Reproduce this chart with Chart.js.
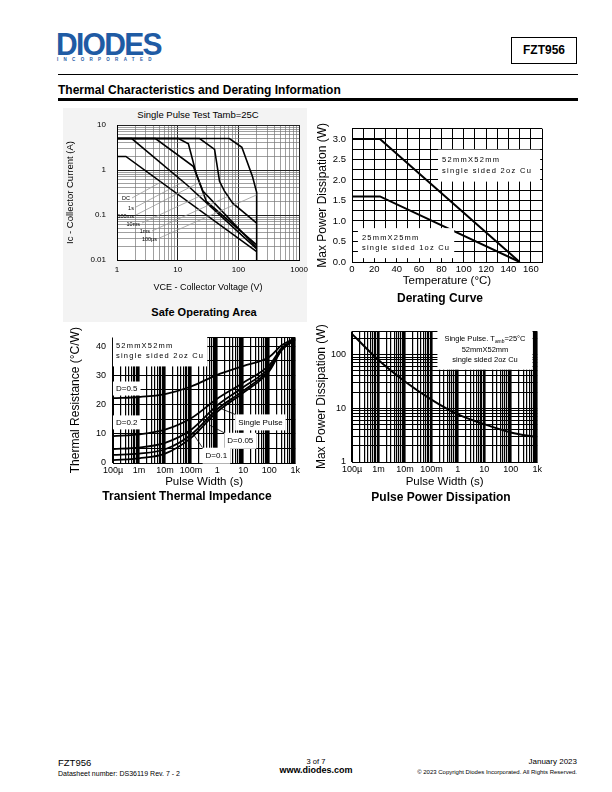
<!DOCTYPE html>
<html>
<head>
<meta charset="utf-8">
<script src="https://cdn.jsdelivr.net/npm/chart.js@4.4.0/dist/chart.umd.min.js"></script>
<style>
body { margin: 0; width: 612px; height: 792px; position: relative; background: #fff; overflow: hidden;
       font-family: "Liberation Sans", Arial, sans-serif; color: #000; }
.t { position: absolute; white-space: nowrap; }
canvas { position: absolute; }
</style>
</head>
<body>
<!-- header -->
<div class="t" style="left:56px;top:29px;font:bold 31px/31px 'Liberation Sans';color:#1f5ba4;letter-spacing:-1.8px;transform:scaleX(0.97);transform-origin:left top">DIODES</div>
<div class="t" style="left:57px;top:57px;font:bold 4.5px/5px 'Liberation Sans';color:#1f5ba4;letter-spacing:5.3px">INCORPORATED</div>
<div class="t" style="left:511px;top:37px;width:64px;height:25px;border:1px solid #000;font:bold 12px/25px 'Liberation Sans';text-align:center">FZT956</div>
<div class="t" style="left:58px;top:74px;width:520px;height:1px;background:#000"></div>
<div class="t" style="left:58px;top:84px;font:bold 12px/12px 'Liberation Sans'">Thermal Characteristics and Derating Information</div>
<div class="t" style="left:58px;top:98px;width:520px;height:2.5px;background:#000"></div>

<!-- safe operating area backdrop -->
<div class="t" style="left:63px;top:108px;width:244px;height:214px;background:#f3f3f3"></div>
<div class="t" style="left:98px;top:110px;width:200px;text-align:center;font:9.5px/10px 'Liberation Sans'">Single Pulse Test Tamb=25C</div>
<canvas id="soa" width="250" height="185" style="left:63px;top:108px"></canvas>
<div class="t" style="left:104px;top:307px;width:200px;text-align:center;font:bold 11px/11px 'Liberation Sans'">Safe Operating Area</div>

<canvas id="derating" width="240" height="173" style="left:312px;top:117px"></canvas>
<div class="t" style="left:340px;top:292px;width:200px;text-align:center;font:bold 12px/12px 'Liberation Sans'">Derating Curve</div>

<canvas id="transient" width="240" height="165" style="left:62px;top:325px"></canvas>
<div class="t" style="left:87px;top:490px;width:200px;text-align:center;font:bold 12px/12px 'Liberation Sans'">Transient Thermal Impedance</div>

<canvas id="pulse" width="232" height="170" style="left:312px;top:320px"></canvas>
<div class="t" style="left:341px;top:491px;width:200px;text-align:center;font:bold 12px/12px 'Liberation Sans'">Pulse Power Dissipation</div>

<!-- footer -->
<div class="t" style="left:58px;top:758px;font:9.5px/10px 'Liberation Sans'">FZT956</div>
<div class="t" style="left:58px;top:770px;font:7px/8px 'Liberation Sans'">Datasheet number: DS36119 Rev. 7 - 2</div>
<div class="t" style="left:216px;top:758px;width:200px;text-align:center;font:7.5px/8px 'Liberation Sans'">3 of 7</div>
<div class="t" style="left:216px;top:766px;width:200px;text-align:center;font:bold 9px/9px 'Liberation Sans'">www.diodes.com</div>
<div class="t" style="right:35px;top:758px;font:8px/8px 'Liberation Sans'">January 2023</div>
<div class="t" style="right:35px;top:769px;font:6px/7px 'Liberation Sans'">© 2023 Copyright Diodes Incorporated. All Rights Reserved.</div>

<script>
// ---- Safe Operating Area: collector voltage (V) / collector current (A)
var soaDcV = [1, 1.4, 200];
var soaDcI = [2, 2, 0.0154];
var soa1sV = [1, 1.75, 14.1, 200];
var soa1sI = [5, 5, 0.47, 0.0176];
var soa100msV = [1, 4.3, 18, 26, 200];
var soa100msI = [5, 5, 1.21, 0.34, 0.019];
var soa10msV = [1, 10.3, 15, 20.4, 29.7, 200];
var soa10msI = [5, 5, 3.8, 0.79, 0.2, 0.0216];
var soa1msV = [1, 23, 40.5, 48.9, 59, 80.5, 200];
var soa1msI = [5, 5, 2.86, 0.56, 0.34, 0.184, 0.066];
var soa100usV = [1, 71, 114, 170, 200, 200];
var soa100usI = [5, 5, 3.2, 0.73, 0.32, 0.01];
var soaXTicks = [1, 10, 100, 1000];
var soaXLabels = ['1', '10', '100', '1000'];
var soaYTicks = [0.01, 0.1, 1, 10];
var soaYLabels = ['0.01', '0.1', '1', '10'];

// ---- Derating curve: temperature (°C) / power (W)
var derTemp = [0, 25, 150];
var der52 = [3.0, 3.0, 0];
var der25 = [1.6, 1.6, 0];
var derXTicks = [0, 20, 40, 60, 80, 100, 120, 140, 160];
var derXLabels = ['0', '20', '40', '60', '80', '100', '120', '140', '160'];
var derYTicks = [0, 0.5, 1, 1.5, 2, 2.5, 3];
var derYLabels = ['0.0', '0.5', '1.0', '1.5', '2.0', '2.5', '3.0'];

// ---- Transient thermal impedance: pulse width (s) / °C/W
var ttiWidth = [1e-4, 1e-3, 1e-2, 0.1, 1, 10, 100, 300, 1000];
var ttiD05 = [22.2, 22.6, 23.6, 26.2, 30.2, 33.2, 36.3, 40.3, 42.8];
var ttiD02 = [9.2, 9.8, 11.4, 15.3, 22.0, 27.5, 33.5, 39.3, 42.5];
var ttiD01 = [4.8, 5.3, 6.9, 11.4, 19.7, 25.9, 32.6, 39.0, 42.4];
var ttiD005 = [2.8, 3.2, 4.7, 9.7, 18.4, 24.7, 32.0, 38.8, 42.3];
var ttiSingle = [1.0, 1.6, 3.2, 8.6, 17.5, 24.0, 31.4, 38.6, 42.2];
var ttiYTicks = [0, 10, 20, 30, 40];
var ttiYLabels = ['0', '10', '20', '30', '40'];

// ---- Pulse power dissipation: pulse width (s) / W
var ppdWidth = [1e-4, 1e-3, 1e-2, 0.1, 1, 10, 100, 1000];
var ppdPower = [243, 79, 31.5, 14.5, 7.7, 5.05, 3.55, 2.88];
var ppdYTicks = [1, 10, 100];
var ppdYLabels = ['1', '10', '100'];

var widthTicks = [1e-4, 1e-3, 1e-2, 0.1, 1, 10, 100, 1000];
var widthLabels = ['100µ', '1m', '10m', '100m', '1', '10', '100', '1k'];

var FF = '"Liberation Sans", Arial, sans-serif';
Chart.defaults.font.family = FF;
Chart.defaults.color = '#000';

function zip(xs, ys) {
    return xs.map(function(x, i) { return { x: x, y: ys[i] }; });
}

// grid positions 1..9 per decade
function logGrid(lo, hi) {
    var g = [];
    for (var e = lo; e < hi; e++) {
        for (var m = 1; m <= 9; m++) g.push(Number((m * Math.pow(10, e)).toPrecision(4)));
    }
    g.push(Number(Math.pow(10, hi).toPrecision(4)));
    return g;
}

function stepGrid(lo, hi, step) {
    var g = [];
    for (var v = lo; v <= hi + 1e-9; v += step) g.push(Number(v.toFixed(4)));
    return g;
}

function isDecade(v) {
    var l = Math.log10(v);
    return Math.abs(l - Math.round(l)) < 1e-6;
}

function pick(vals, labels) {
    return function(v) {
        for (var i = 0; i < vals.length; i++) {
            if (Math.abs(vals[i] - v) <= 1e-9 * Math.max(1, Math.abs(vals[i]))) return labels[i];
        }
        return '';
    };
}

function axis(o) {
    var horiz = o.pos === 'x';
    return {
        type: o.type || 'linear',
        min: o.min,
        max: o.max,
        afterBuildTicks: function(s) { s.ticks = o.grid.map(function(v) { return { value: v }; }); },
        afterFit: function(s) { if (horiz) s.height = o.size; else s.width = o.size; },
        ticks: {
            autoSkip: false, maxRotation: 0, minRotation: 0,
            padding: o.tickPad, font: { size: o.tickSize }, color: '#000',
            callback: pick(o.ticks, o.labels)
        },
        grid: { drawTicks: false, color: o.gridColor || '#000', lineWidth: o.gridWidth || 1 },
        border: { color: '#000', width: 1 },
        title: { display: true, text: o.title, color: '#000', font: { size: o.titleSize }, padding: o.titlePad }
    };
}

function line(data, w, smooth) {
    return {
        data: data, borderColor: '#000', borderWidth: w, pointRadius: 0, fill: false,
        cubicInterpolationMode: smooth ? 'monotone' : 'default', tension: 0
    };
}

// white plot area
var plotBg = {
    id: 'plotBg',
    beforeDraw: function(chart, args, opts) {
        if (!opts.color) return;
        var a = chart.chartArea;
        chart.ctx.save();
        chart.ctx.fillStyle = opts.color;
        chart.ctx.fillRect(a.left, a.top, a.right - a.left, a.bottom - a.top);
        chart.ctx.restore();
    }
};

// text notes placed in data coordinates, with optional white box and leader line
var notesPlugin = {
    id: 'notes',
    afterDatasetsDraw: function(chart, args, opts) {
        var ctx = chart.ctx, sx = chart.scales.x, sy = chart.scales.y;
        (opts.items || []).forEach(function(n) {
            ctx.save();
            var size = n.size || 8;
            var font = size + 'px ' + FF;
            var subFont = (size * 0.65).toFixed(1) + 'px ' + FF;
            ctx.letterSpacing = (n.spacing || 0) + 'px';
            var segs = n.lines.map(function(l) { return typeof l === 'string' ? [[l, false]] : l; });
            var widths = segs.map(function(l) {
                return l.reduce(function(w, s) { ctx.font = s[1] ? subFont : font; return w + ctx.measureText(s[0]).width; }, 0);
            });
            var w = Math.max.apply(null, widths);
            var lh = n.lh || size * 1.25;
            var h = lh * segs.length;
            var ax = sx.getPixelForValue(n.x), ay = sy.getPixelForValue(n.y);
            var left = n.align === 'right' ? ax - w : n.align === 'center' ? ax - w / 2 : ax;
            var top = ay - h / 2;
            var pad = n.box || [0, 0, 0, 0];
            if (n.lead) {
                var fx = n.lead.from === 'corner' ? left - pad[3] : left + w + 2;
                var fy = n.lead.from === 'corner' ? top - pad[0] : ay - 1;
                ctx.strokeStyle = n.lead.color || '#000';
                ctx.lineWidth = n.lead.width || 0.8;
                ctx.beginPath();
                ctx.moveTo(fx, fy);
                ctx.lineTo(sx.getPixelForValue(n.lead.x), sy.getPixelForValue(n.lead.y));
                ctx.stroke();
            }
            if (n.box) {
                ctx.fillStyle = '#fff';
                ctx.fillRect(left - pad[3], top - pad[0], w + pad[1] + pad[3], h + pad[0] + pad[2]);
            }
            ctx.fillStyle = '#000';
            ctx.textBaseline = 'middle';
            segs.forEach(function(l, i) {
                var x = n.align === 'center' ? ax - widths[i] / 2 : n.align === 'right' ? ax - widths[i] : left;
                var y = top + lh * (i + 0.5);
                l.forEach(function(s) {
                    ctx.font = s[1] ? subFont : font;
                    ctx.fillText(s[0], x, s[1] ? y + size * 0.3 : y);
                    x += ctx.measureText(s[0]).width;
                });
            });
            ctx.restore();
        });
    }
};

var base = { responsive: false, animation: false, devicePixelRatio: 1, events: [] };

function opts(extra) {
    return Object.assign({}, base, extra);
}

// decade lines a bit heavier on the pulse-width axes
var decadeWidth = function(c) { return isDecade(c.tick.value) ? 1.6 : 1.2; };

// Safe Operating Area
var soaGrey = function(c) { return isDecade(c.tick.value) ? '#222' : '#777'; };
var soaWidth = function(c) { return isDecade(c.tick.value) ? 1 : 0.7; };
var soaLead = '#999';
new Chart(document.getElementById('soa'), {
    type: 'line',
    data: {
        datasets: [
            line(zip(soaDcV, soaDcI), 1.6),
            line(zip(soa1sV, soa1sI), 1.6),
            line(zip(soa100msV, soa100msI), 1.6),
            line(zip(soa10msV, soa10msI), 1.6),
            line(zip(soa1msV, soa1msI), 1.6),
            line(zip(soa100usV, soa100usI), 1.6)
        ]
    },
    options: opts({
        layout: { padding: { top: 17, right: 8, left: 0, bottom: 0 } },
        scales: {
            x: axis({ pos: 'x', type: 'logarithmic', min: 1, max: 1000, grid: logGrid(0, 3),
                ticks: soaXTicks, labels: soaXLabels, size: 33, tickPad: 5, tickSize: 8,
                gridColor: soaGrey, gridWidth: soaWidth,
                title: 'VCE - Collector Voltage (V)', titleSize: 9, titlePad: { top: 0, bottom: 0 } }),
            y: axis({ pos: 'y', type: 'logarithmic', min: 0.01, max: 10, grid: logGrid(-2, 1),
                ticks: soaYTicks, labels: soaYLabels, size: 54, tickPad: 11, tickSize: 8,
                gridColor: soaGrey, gridWidth: soaWidth,
                title: 'Ic - Collector Current (A)', titleSize: 9.5, titlePad: { top: 1.5, bottom: 0 } })
        },
        plugins: {
            legend: { display: false }, tooltip: { enabled: false },
            plotBg: { color: '#fff' },
            notes: { items: [
                { x: 1.64, y: 0.227, lines: ['DC'], size: 5.5, align: 'right', lead: { x: 5.3, y: 0.54, color: soaLead } },
                { x: 1.9, y: 0.143, lines: ['1s'], size: 5.5, align: 'right', lead: { x: 12.2, y: 0.54, color: soaLead } },
                { x: 1.9, y: 0.095, lines: ['100ms'], size: 5.5, align: 'right', lead: { x: 23.3, y: 0.54, color: soaLead } },
                { x: 2.39, y: 0.063, lines: ['10ms'], size: 5.5, align: 'right', lead: { x: 27.1, y: 0.29, color: soaLead } },
                { x: 3.5, y: 0.042, lines: ['1ms'], size: 5.5, align: 'right', lead: { x: 67.4, y: 0.26, color: soaLead } },
                { x: 4.56, y: 0.029, lines: ['100µs'], size: 5.5, align: 'right', lead: { x: 200, y: 0.28, color: soaLead } }
            ] }
        }
    }),
    plugins: [plotBg, notesPlugin]
});

// Derating Curve
new Chart(document.getElementById('derating'), {
    type: 'line',
    data: { datasets: [line(zip(derTemp, der52), 2), line(zip(derTemp, der25), 2)] },
    options: opts({
        layout: { padding: { top: 10, right: 10, left: 0, bottom: 0 } },
        scales: {
            x: axis({ pos: 'x', min: 0, max: 170, grid: stepGrid(0, 170, 10),
                ticks: derXTicks, labels: derXLabels, size: 28, tickPad: 2, tickSize: 9.5,
                title: 'Temperature (°C)', titleSize: 11.5, titlePad: { top: 0, bottom: 2 } }),
            y: axis({ pos: 'y', min: 0, max: 3.25, grid: stepGrid(0, 3.25, 0.25),
                ticks: derYTicks, labels: derYLabels, size: 40, tickPad: 6, tickSize: 9.5,
                title: 'Max Power Dissipation (W)', titleSize: 12, titlePad: { top: 3, bottom: 0 } })
        },
        plugins: {
            legend: { display: false }, tooltip: { enabled: false },
            notes: { items: [
                { x: 80.5, y: 2.35, lines: ['52mmX52mm', 'single sided 2oz Cu'], size: 7.5, spacing: 1.3, lh: 11, box: [5, 8, 5, 4] },
                { x: 8.9, y: 0.46, lines: ['25mmX25mm', 'single sided 1oz Cu'], size: 7.5, spacing: 1.2, lh: 10, box: [5, 4, 5, 4] }
            ] }
        }
    }),
    plugins: [notesPlugin]
});

// Transient Thermal Impedance
new Chart(document.getElementById('transient'), {
    type: 'line',
    data: {
        datasets: [
            line(zip(ttiWidth, ttiD05), 1.8, true),
            line(zip(ttiWidth, ttiD02), 1.8, true),
            line(zip(ttiWidth, ttiD01), 1.8, true),
            line(zip(ttiWidth, ttiD005), 1.8, true),
            line(zip(ttiWidth, ttiSingle), 1.8, true)
        ]
    },
    options: opts({
        layout: { padding: { top: 4, right: 4, left: 0, bottom: 0 } },
        scales: {
            x: axis({ pos: 'x', type: 'logarithmic', min: 1e-4, max: 1000, grid: logGrid(-4, 3),
                ticks: widthTicks, labels: widthLabels, size: 27, tickPad: 2, tickSize: 9,
                gridWidth: decadeWidth,
                title: 'Pulse Width (s)', titleSize: 11.5, titlePad: { top: 0, bottom: 1 } }),
            y: axis({ pos: 'y', min: 0, max: 43, grid: stepGrid(0, 40, 5).concat([43]),
                ticks: ttiYTicks, labels: ttiYLabels, size: 51, tickPad: 7, tickSize: 9,
                title: 'Thermal Resistance (°C/W)', titleSize: 12, titlePad: { top: 6.5, bottom: 0 } })
        },
        plugins: {
            legend: { display: false }, tooltip: { enabled: false },
            notes: { items: [
                { x: 1.3e-4, y: 38.2, lines: ['52mmX52mm', 'single sided 2oz Cu'], size: 7.5, spacing: 1.2, lh: 10, box: [5, 3, 5, 3] },
                { x: 1.3e-4, y: 25.5, lines: ['D=0.5'], size: 8, box: [2, 3, 2, 3] },
                { x: 1.3e-4, y: 13.9, lines: ['D=0.2'], size: 8, box: [2, 3, 2, 3] },
                { x: 6.4, y: 13.9, lines: ['Single Pulse'], size: 8, box: [3, 3, 3, 3], lead: { from: 'corner', x: 1.5, y: 18.5 } },
                { x: 2.45, y: 7.6, lines: ['D=0.05'], size: 8, box: [3, 3, 3, 3], lead: { from: 'corner', x: 0.5, y: 13 } },
                { x: 0.36, y: 2.5, lines: ['D=0.1'], size: 8, box: [3, 3, 3, 3], lead: { from: 'corner', x: 0.1, y: 11 } }
            ] }
        }
    }),
    plugins: [notesPlugin]
});

// Pulse Power Dissipation
new Chart(document.getElementById('pulse'), {
    type: 'line',
    data: { datasets: [line(zip(ppdWidth, ppdPower), 2, true)] },
    options: opts({
        layout: { padding: { top: 7, right: 4, left: 0, bottom: 0 } },
        scales: {
            x: axis({ pos: 'x', type: 'logarithmic', min: 1e-4, max: 1000, grid: logGrid(-4, 3),
                ticks: widthTicks, labels: widthLabels, size: 28, tickPad: 2, tickSize: 9,
                gridWidth: decadeWidth,
                title: 'Pulse Width (s)', titleSize: 11.5, titlePad: { top: 0, bottom: 1 } }),
            y: axis({ pos: 'y', type: 'logarithmic', min: 1, max: 270, grid: logGrid(0, 2).concat([200, 270]),
                ticks: ppdYTicks, labels: ppdYLabels, size: 40, tickPad: 6, tickSize: 9,
                title: 'Max Power Dissipation (W)', titleSize: 12, titlePad: { top: 2, bottom: 0 } })
        },
        plugins: {
            legend: { display: false }, tooltip: { enabled: false },
            notes: { items: [
                { x: 10.6, y: 122, align: 'center', size: 7.5, lh: 10.5, box: [4, 7, 4, 7],
                  lines: [[['Single Pulse. T', false], ['amb', true], ['=25°C', false]], '52mmX52mm', 'single sided 2oz Cu'] }
            ] }
        }
    }),
    plugins: [notesPlugin]
});
</script>
</body>
</html>
